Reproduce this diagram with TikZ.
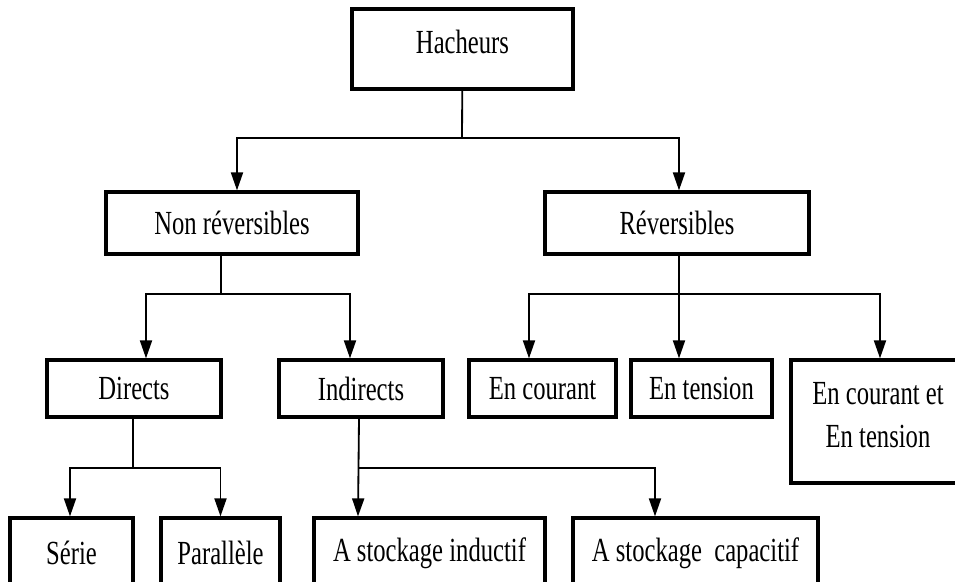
\documentclass[tikz,border=0pt]{standalone}
\usepackage{fontspec}
\setmainfont{Liberation Serif}[FakeStretch=0.73]
\usetikzlibrary{arrows.meta}
\newdimen\pix \pix=0.025cm
\tikzset{
	boite/.style={draw,line width=2.3pt,inner sep=0pt,align=center,font=\fontsize{24}{31}\selectfont},
	trait/.style={line width=1.3pt},
	fleche/.style={trait,-{Triangle[length=0.45cm,width=0.3cm]}}
}
\begin{document}
\begin{tikzpicture}[x=0.025cm,y=-0.025cm]
				\useasboundingbox(0,0)rectangle(955,581);
				\clip(0,0)rectangle(955,581);
				\node[boite,minimum width=221\pix,minimum height=80\pix](hach)at(462.5,49){\raisebox{14\pix}{Hacheurs}};
				\node[boite,minimum width=252\pix,minimum height=62\pix](nonrev)at(232,223){Non réversibles};
				\node[boite,minimum width=264\pix,minimum height=62\pix](rev)at(677,223){Réversibles};
				\node[boite,minimum width=174\pix,minimum height=57\pix](dir)at(134,388.5){Directs};
				\node[boite,minimum width=164\pix,minimum height=57\pix](indi)at(361,388.5){Indirects};
				\node[boite,minimum width=147\pix,minimum height=57\pix](ecou)at(542.5,388.5){En courant};
				\node[boite,minimum width=141\pix,minimum height=57\pix](eten)at(701.5,388.5){En tension};
				\node[boite,minimum width=174\pix,minimum height=123\pix,text depth=0.33cm](ecet)at(878,421.5){En courant et\\En tension};
				\node[boite,minimum width=123\pix,minimum height=70\pix](serie)at(71.5,553){Série};
				\node[boite,minimum width=119\pix,minimum height=70\pix](para)at(220.5,553){Parallèle};
				\node[boite,minimum width=231\pix,minimum height=70\pix](ind)at(429.5,553){A stockage inductif};
				\node[boite,minimum width=245\pix,minimum height=70\pix](cap)at(695.5,553){A stockage\ \ capacitif};
				\coordinate(j1)at(462,138);
				\coordinate(j2)at(221,294);
				\coordinate(j3)at(679,294);
				\coordinate(j4)at(133,468);
				\coordinate(j5)at(359,468);
				\draw[trait](hach)--(j1);
				\draw[fleche](j1)-|([xshift=5*\pix]nonrev.north);
				\draw[fleche](j1)-|([xshift=2*\pix]rev.north);
				\draw[trait]([xshift=-11*\pix]nonrev.south)--(j2);
				\draw[fleche](j2)-|([xshift=12*\pix]dir.north);
				\draw[fleche](j2)-|([xshift=-11*\pix]indi.north);
				\draw[fleche]([xshift=2*\pix]rev.south)--([xshift=-22.5*\pix]eten.north);
				\draw[fleche](j3)-|([xshift=-13.5*\pix]ecou.north);
				\draw[fleche](j3)-|([xshift=2*\pix]ecet.north);
				\draw[trait]([xshift=-1*\pix]dir.south)--(j4);
				\draw[fleche](j4)-|([xshift=-1.5*\pix]serie.north);
				\draw[fleche](j4)-|(para.north);
				\draw[fleche]([xshift=-2*\pix]indi.south)--([xshift=-71.5*\pix]ind.north);
				\draw[fleche](j5)-|([xshift=-40.5*\pix]cap.north);
			\end{tikzpicture}
\end{document}
